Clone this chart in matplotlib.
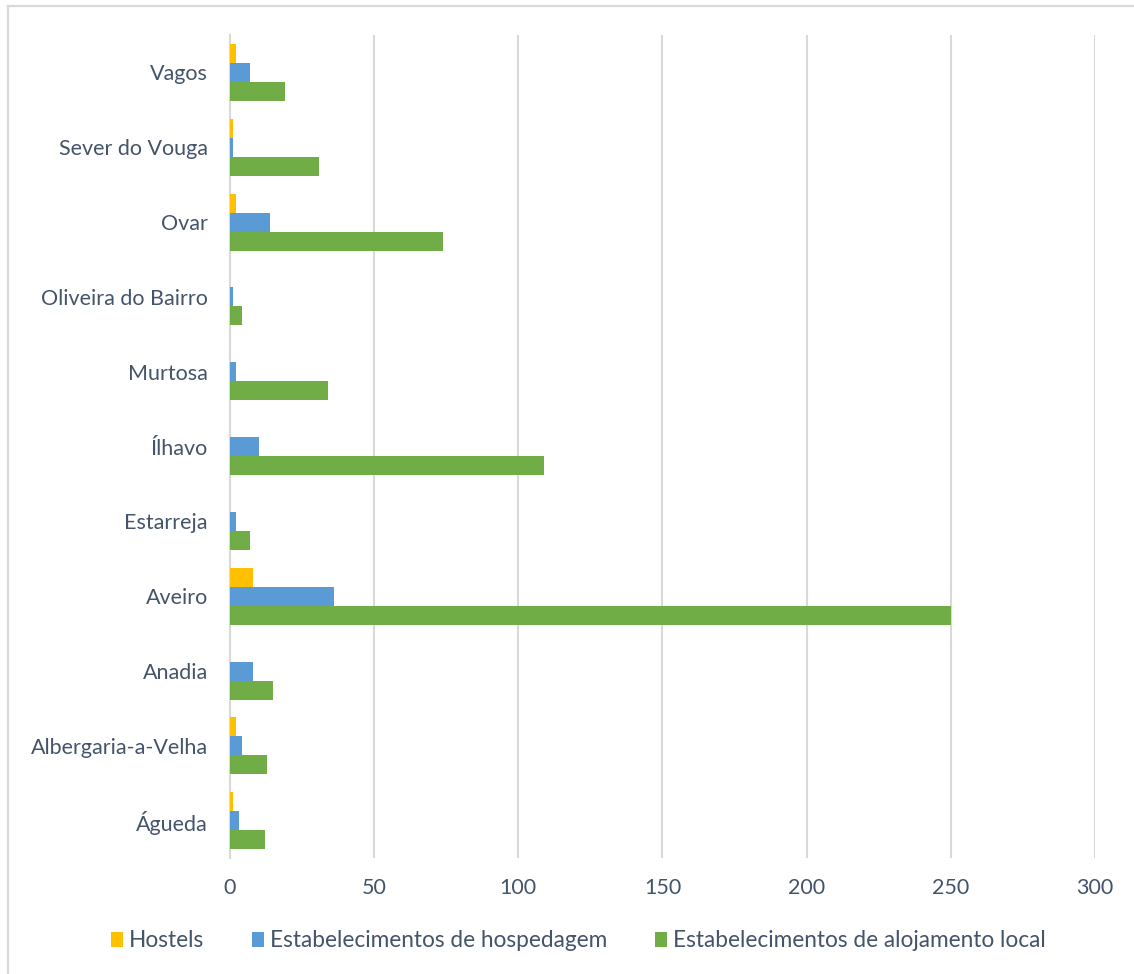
import matplotlib.pyplot as plt
import numpy as np
from matplotlib.lines import Line2D

# Concelhos (de baixo para cima, como no eixo)
concelhos = ["Águeda", "Albergaria-a-Velha", "Anadia", "Aveiro", "Estarreja", "Ílhavo",
             "Murtosa", "Oliveira do Bairro", "Ovar", "Sever do Vouga", "Vagos"]
hostels = [1, 2, 0, 8, 0, 0, 0, 0, 2, 1, 2]
hospedagem = [3, 4, 8, 36, 2, 10, 2, 1, 14, 1, 7]
alojamento_local = [12, 13, 15, 250, 7, 109, 34, 4, 74, 31, 19]

series = ["Hostels", "Estabelecimentos de hospedagem", "Estabelecimentos de alojamento local"]
cores = ["#FFC000", "#5B9BD5", "#70AD47"]
texto = "#44546A"

plt.rcParams['font.family'] = ['Lato', 'DejaVu Sans']

fig = plt.figure(figsize=(11.34, 9.74), dpi=100)
ax = fig.add_axes([0.2028, 0.119, 0.7628, 0.845])

# moldura do gráfico (só os lados esquerdo e de cima ficam visíveis)
x0, y0 = 8 / 1134, 1 - 6 / 974
fig.lines.append(Line2D([x0, x0], [-0.01, y0], transform=fig.transFigure,
                        color="#D9D9D9", linewidth=1.6))
fig.lines.append(Line2D([x0, 1.01], [y0, y0], transform=fig.transFigure,
                        color="#D9D9D9", linewidth=1.6))

y = np.arange(len(concelhos))
h = 0.254
for i, (vals, cor) in enumerate(zip([hostels, hospedagem, alojamento_local], cores)):
    ax.barh(y + (1 - i) * h, vals, height=h, color=cor, label=series[i], zorder=3)

ax.set_xlim(0, 300)
ax.set_ylim(-0.5, len(concelhos) - 0.5)
ax.set_xticks(np.arange(0, 301, 50))
ax.set_yticks(y)
ax.set_yticklabels(concelhos)
ax.tick_params(length=0, labelsize=15.5, colors=texto)
ax.tick_params(axis='y', pad=16)
ax.tick_params(axis='x', pad=14)
ax.grid(axis='x', color="#D9D9D9", linewidth=1.5, zorder=0)
for lado in ["top", "right", "bottom"]:
    ax.spines[lado].set_visible(False)
ax.spines["left"].set_color("#D9D9D9")
ax.spines["left"].set_linewidth(1.5)

fig.legend(loc="center", bbox_to_anchor=(0.51, 0.034), ncol=3, frameon=False,
           fontsize=16.3, labelcolor=texto, handlelength=0.55, handleheight=0.7,
           handletextpad=0.25, columnspacing=2.1)

fig.savefig("out.png", dpi=100)
